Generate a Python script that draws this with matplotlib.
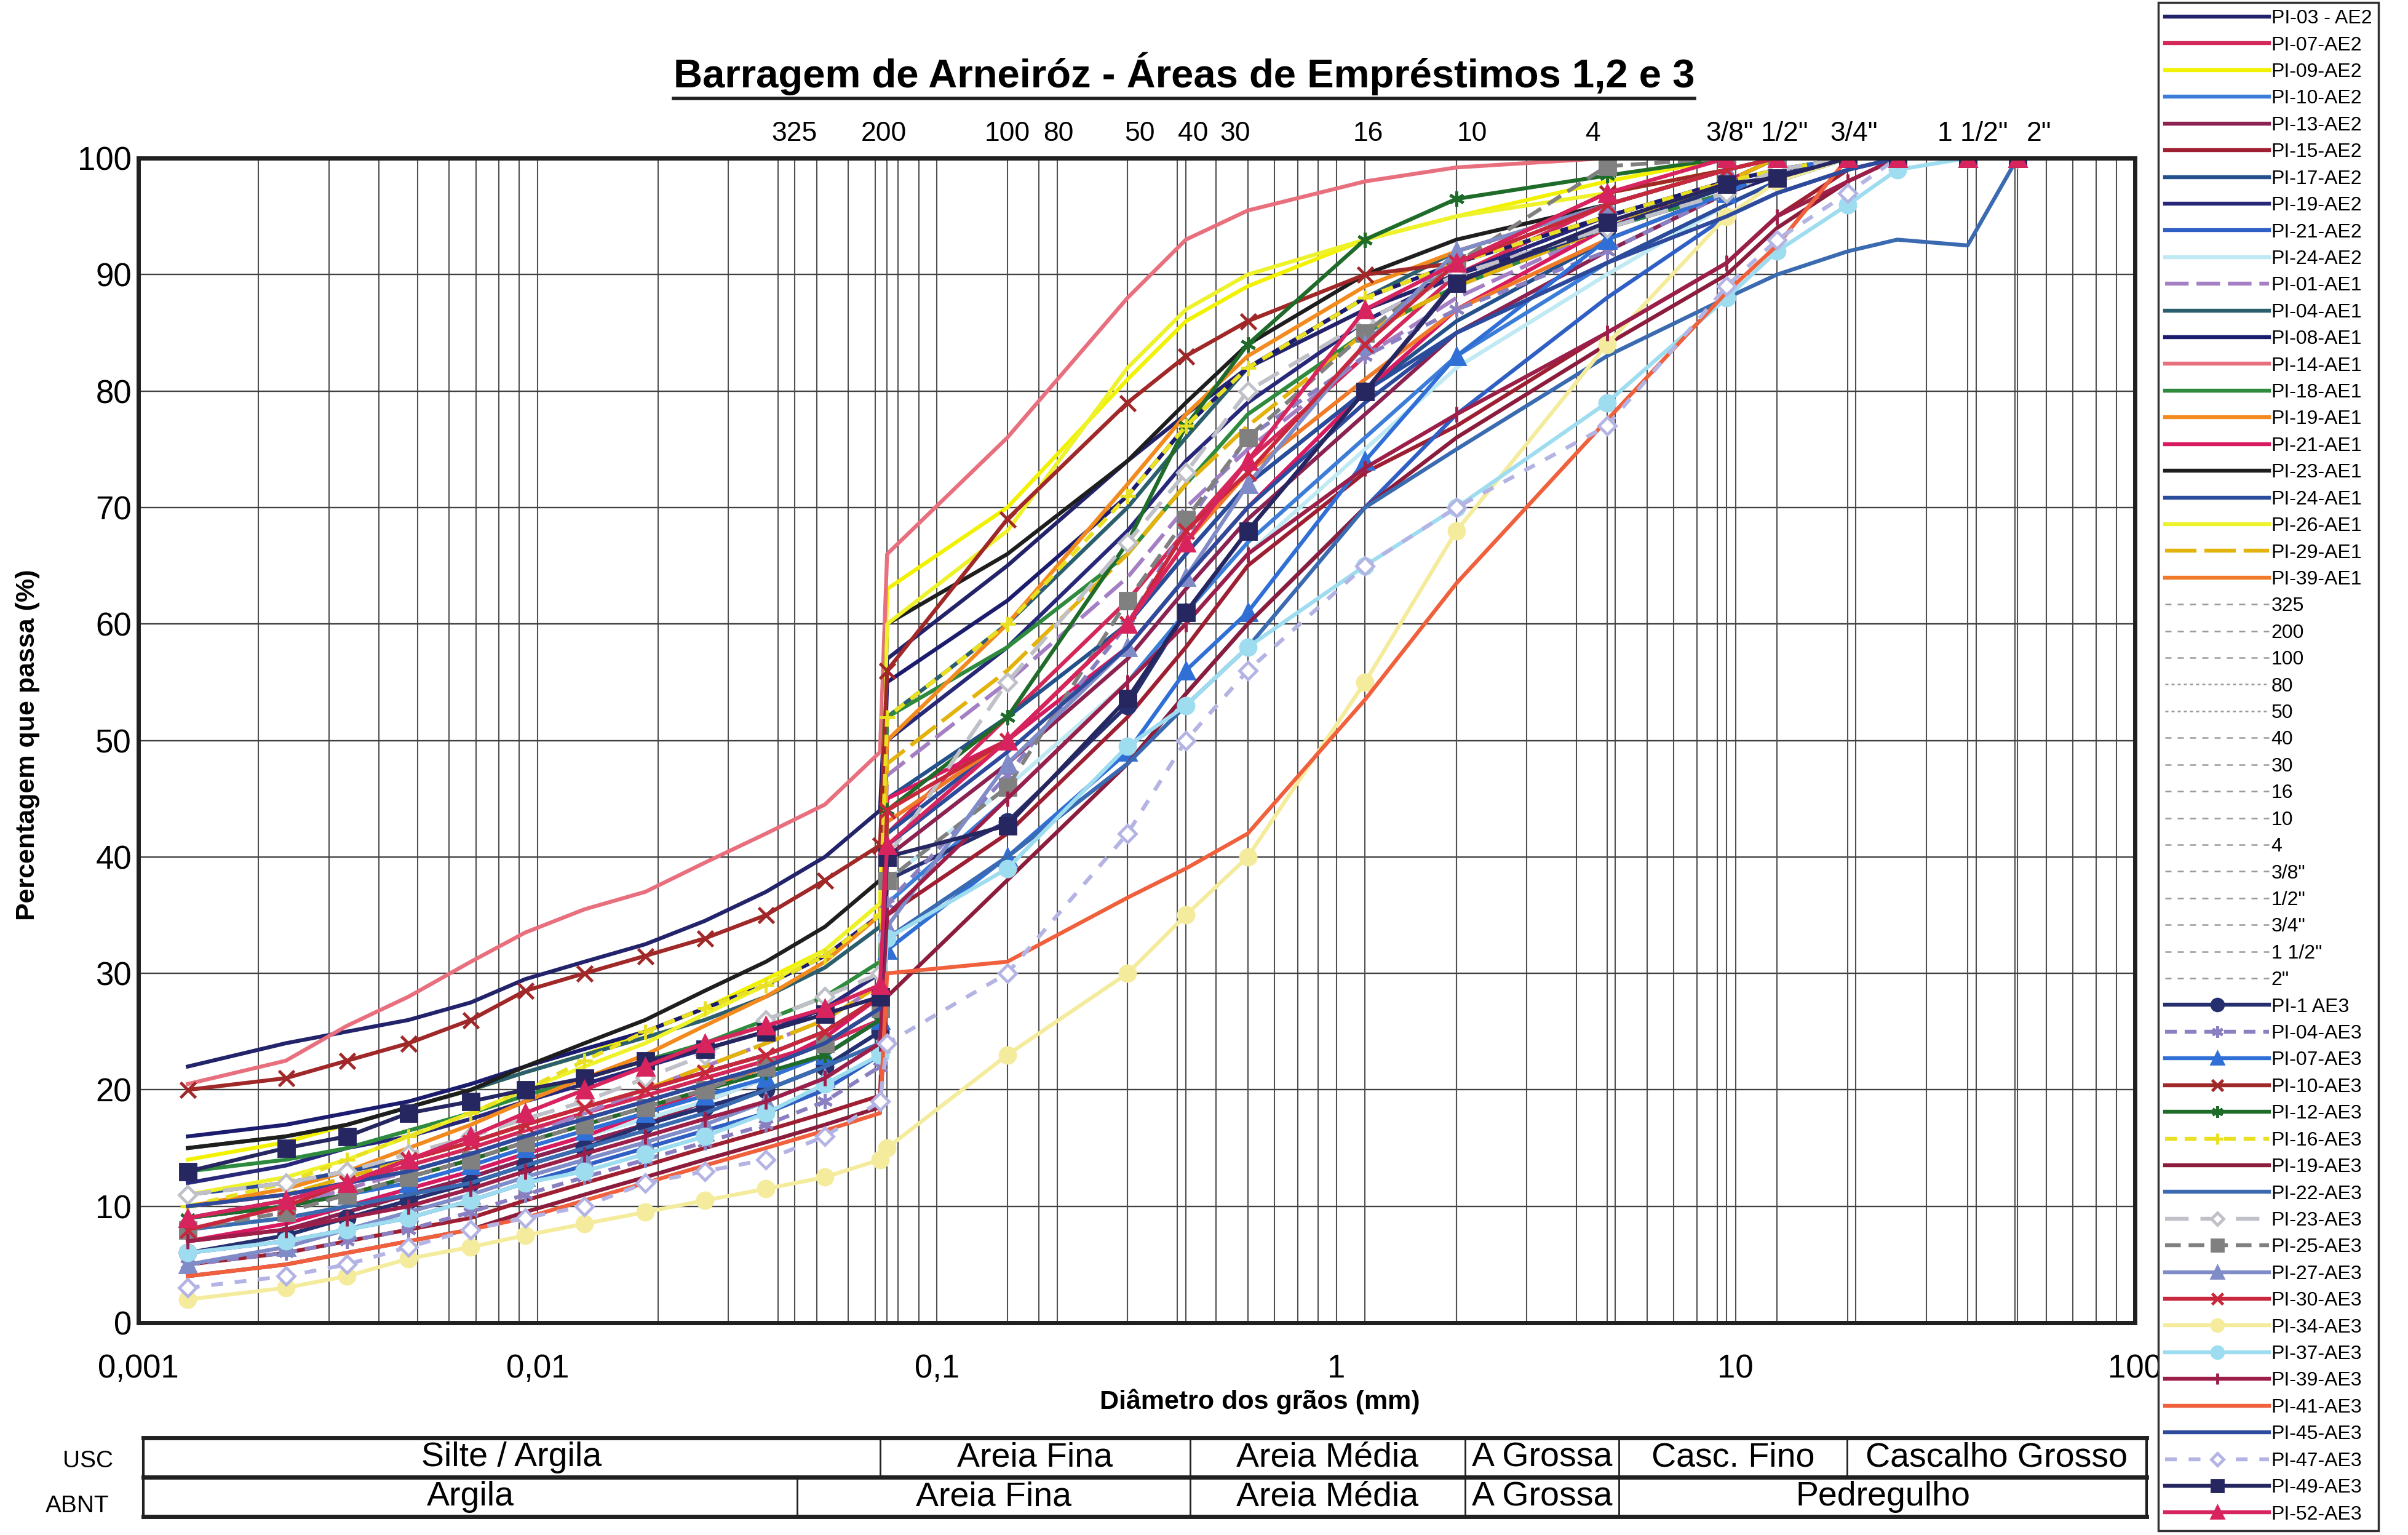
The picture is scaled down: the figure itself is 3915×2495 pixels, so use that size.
import matplotlib
matplotlib.use("Agg")
import matplotlib.pyplot as plt
from matplotlib.lines import Line2D
from matplotlib.ticker import LogLocator, NullFormatter
import matplotlib.transforms as mtransforms

plt.rcParams['font.family'] = ['Liberation Sans', 'DejaVu Sans']

W, H, DPI = 3916, 2495, 100

# diametros (mm): 12 leituras de sedimentacao + 14 peneiras
diametros = [0.00133, 0.00234, 0.00333, 0.00475, 0.0068, 0.0093, 0.0131, 0.0186,
             0.0262, 0.0373, 0.0524, 0.072,
             0.075, 0.15, 0.30, 0.42, 0.60, 1.18, 2.0, 4.76, 9.5, 12.7, 19.1, 25.4, 38.1, 50.8]

# % que passa - areas 2 e 1
pi03_ae2 = [22, 24, 25, 26, 27.5, 29.5, 31, 32.5, 34.5, 37, 40, 44, 57, 65, 74, 78, 82, 87, 90, 94, 97, 98.5, 100, 100, 100, 100]
pi07_ae2 = [10, 11, 12, 13.5, 15, 16.5, 18, 19.5, 21, 22.5, 24, 26, 42, 52, 62, 68, 74, 83, 90, 96, 99, 100, 100, 100, 100, 100]
pi09_ae2 = [14, 15.5, 17, 18.5, 20, 21.5, 23, 25, 27, 29.5, 32, 36, 63, 70, 81, 86, 89, 93, 95, 98, 100, 100, 100, 100, 100, 100]
pi10_ae2 = [8, 9, 10, 11, 12.5, 14, 15.5, 17, 18.5, 20, 22, 25, 36, 45, 55, 61, 67, 76, 83, 91, 96, 98, 100, 100, 100, 100]
pi13_ae2 = [7, 8, 9.5, 11, 12.5, 14, 15.5, 17, 19, 21, 23, 26, 40, 48, 57, 63, 69, 78, 85, 92, 97, 99, 100, 100, 100, 100]
pi15_ae2 = [5, 6, 7, 8, 9, 10.5, 12, 13.5, 15, 16.5, 18, 19.5, 35, 42, 52, 58, 65, 73, 77, 85, 91, 95, 99, 100, 100, 100]
pi17_ae2 = [9, 10.5, 12, 13, 14.5, 16, 17.5, 19, 20.5, 22, 24, 27, 45, 52, 60, 66, 72, 80, 86, 93, 97, 99, 100, 100, 100, 100]
pi19_ae2 = [12, 13.5, 15, 16, 17.5, 19, 20.5, 22, 23.5, 25, 27, 30, 50, 58, 68, 74, 79, 86, 90, 95, 98, 100, 100, 100, 100, 100]
pi21_ae2 = [6, 7, 8, 9, 10.5, 12, 13.5, 15, 16.5, 18, 20, 23, 33, 40, 48, 54, 60, 70, 78, 88, 95, 97, 99, 100, 100, 100]
pi24_ae2 = [8, 9, 10, 11.5, 13, 14.5, 16, 17.5, 19, 21, 23, 26, 38, 46, 55, 60, 66, 75, 82, 90, 96, 98, 100, 100, 100, 100]
pi01_ae1 = [9, 10, 11.5, 13, 14.5, 16, 18, 20, 22, 24, 26, 29, 47, 55, 64, 70, 75, 83, 88, 94, 98, 99, 100, 100, 100, 100]
pi04_ae1 = [15, 16, 17, 18.5, 20, 21.5, 23, 24.5, 26, 28, 30.5, 34, 52, 60, 70, 76, 82, 88, 92, 96, 99, 100, 100, 100, 100, 100]
pi08_ae1 = [16, 17, 18, 19, 20.5, 22, 23.5, 25, 27, 29, 31.5, 35, 55, 62, 71, 77, 82, 88, 91, 95, 98, 99, 100, 100, 100, 100]
pi14_ae1 = [20.5, 22.5, 25.5, 28, 31, 33.5, 35.5, 37, 39.5, 42, 44.5, 49, 66, 76, 88, 93, 95.5, 98, 99.2, 100, 100, 100, 100, 100, 100, 100]
pi18_ae1 = [13, 14, 15, 16.5, 18, 19.5, 21, 22.5, 24, 26, 28, 31, 52, 58, 66, 72, 78, 85, 89, 94, 97, 99, 100, 100, 100, 100]
pi19_ae1 = [10, 11.5, 13, 15, 17, 19, 21, 23, 25.5, 28, 31, 35, 50, 60, 72, 78, 83, 89, 92, 96, 99, 100, 100, 100, 100, 100]
pi21_ae1 = [7, 8.5, 10, 11.5, 13, 14.5, 16, 18, 20, 22, 24.5, 28, 45, 50, 58, 64, 70, 80, 87, 94, 98, 100, 100, 100, 100, 100]
pi23_ae1 = [15, 16, 17, 18.5, 20, 22, 24, 26, 28.5, 31, 34, 38, 60, 66, 74, 79, 84, 90, 93, 96, 99, 100, 100, 100, 100, 100]
pi24_ae1 = [11, 12, 13, 14, 15.5, 17, 18.5, 20, 21.5, 23, 25, 28, 42, 50, 60, 66, 72, 80, 85, 91, 96, 98, 100, 100, 100, 100]
pi26_ae1 = [11, 12.5, 14, 16, 18, 20, 22, 24, 26.5, 29, 32, 36, 60, 68, 82, 87, 90, 93, 95, 97, 99, 100, 100, 100, 100, 100]
pi29_ae1 = [10, 11, 12.5, 14, 15.5, 17, 18.5, 20, 22, 24, 26, 29, 48, 56, 66, 72, 77, 85, 89, 94, 98, 100, 100, 100, 100, 100]
pi39_ae1 = [9, 10, 11, 12.5, 14, 15.5, 17, 18.5, 20, 22, 24, 27, 43, 50, 60, 67, 73, 81, 87, 93, 97, 99, 100, 100, 100, 100]

# % que passa - area 3
pi01_ae3 = [6, 7.5, 9, 10.5, 12, 13.5, 15, 17, 18.5, 20, 22, 25, 38, 43, 53, 61, 68, 80, 89.5, 94, 97.5, 98.5, 100, 100, 100, 100]
pi04_ae3 = [5, 6, 7, 8, 9.5, 11, 12.5, 14, 15.5, 17, 19, 22, 36, 47, 60, 68.5, 76, 83, 87, 92, 97, 99, 100, 100, 100, 100]
pi07_ae3 = [9, 10, 11, 12, 13.5, 15, 16.5, 18, 19.5, 21, 23, 26, 32, 40, 49, 56, 61, 74, 83, 93, 97, 99, 100, 100, 100, 100]
pi10_ae3 = [20, 21, 22.5, 24, 26, 28.5, 30, 31.5, 33, 35, 38, 41, 56, 69, 79, 83, 86, 90, 91, 97, 99, 100, 100, 100, 100, 100]
pi12_ae3 = [9, 10, 11, 12.5, 14, 15.5, 17, 18.5, 20, 21.5, 23, 26, 44, 52, 67, 77, 84, 93, 96.5, 98.5, 100, 100, 100, 100, 100, 100]
pi16_ae3 = [10, 12, 14, 16, 18, 20, 22.5, 25, 27, 29, 31.5, 35, 52, 60, 71, 77, 82, 88, 91, 95, 98, 99, 100, 100, 100, 100]
pi19_ae3 = [4, 5, 6, 7, 8, 9.5, 11, 12.5, 14, 15.5, 17, 18.5, 28, 38, 48, 54, 60, 70, 76, 84, 90, 94, 98, 100, 100, 100]
pi22_ae3 = [8, 9, 10, 11, 12, 13.5, 15, 16.5, 18, 20, 22, 24, 33, 40, 48, 53, 58, 70, 75, 83, 88, 90, 92, 93, 92.5, 100]
pi23_ae3 = [11, 12, 13, 14.5, 16, 17.5, 19, 21, 23, 26, 28, 30, 40, 55, 67, 73, 80, 86, 90, 94, 97, 99, 100, 100, 100, 100]
pi25_ae3 = [8, 9.5, 11, 12.5, 14, 15.5, 17, 18.5, 20, 22, 24, 27, 38, 46, 62, 69, 76, 85, 91, 99.3, 100, 100, 100, 100, 100, 100]
pi27_ae3 = [5, 6.5, 8, 9.5, 11, 12.5, 14, 15.5, 17, 19, 21, 24, 34, 48, 58, 64, 72, 84, 92, 96, 99, 100, 100, 100, 100, 100]
pi30_ae3 = [8, 10, 12, 14, 15.5, 17, 18.5, 20, 21.5, 23, 25, 28, 44, 50, 60, 68, 73, 84, 91, 96, 99, 100, 100, 100, 100, 100]
pi34_ae3 = [2, 3, 4, 5.5, 6.5, 7.5, 8.5, 9.5, 10.5, 11.5, 12.5, 14, 15, 23, 30, 35, 40, 55, 68, 84, 95, 98, 100, 100, 100, 100]
pi37_ae3 = [6, 7, 8, 9, 10.5, 12, 13, 14.5, 16, 18, 20.5, 23, 33, 39, 49.5, 53, 58, 65, 70, 79, 88, 92, 96, 99, 100, 100]
pi39_ae3 = [7, 8, 9, 10, 11.5, 13, 14.5, 16, 17.5, 19, 21, 24, 35, 45, 55, 60, 66, 73.4, 78, 85, 91, 95, 98, 100, 100, 100]
pi41_ae3 = [4, 5, 6, 7, 8, 9, 10.5, 12, 13.5, 15, 16.5, 18, 30, 31, 36.5, 39, 42, 53.5, 63.5, 77.5, 88.5, 92.5, 100, 100, 100, 100]
pi45_ae3 = [10, 11, 12, 13, 14.5, 16, 17.5, 19, 20.5, 22, 24, 27, 41, 49, 58, 64, 70, 79, 85, 91, 95, 97, 99, 100, 100, 100]
pi47_ae3 = [3, 4, 5, 6.5, 8, 9, 10, 12, 13, 14, 16, 19, 24, 30, 42, 50, 56, 65, 70, 77, 89, 93, 97, 100, 100, 100]
pi49_ae3 = [13, 15, 16, 18, 19, 20, 21, 22.5, 23.5, 25, 26.5, 28, 40, 42.7, 53.6, 61, 68, 80, 89.3, 94.5, 97.8, 98.3, 100, 100, 100, 100]
pi52_ae3 = [9, 10.5, 12, 14, 16, 18, 20, 22, 24, 25.5, 27, 29, 41, 50, 60, 67, 74, 87, 91, 97, 100, 100, 100, 100, 100, 100]

# peneiras (linhas verticais) e seus rotulos
peneiras_mm = [0.044, 0.075, 0.15, 0.18, 0.30, 0.42, 0.60, 1.18, 2.0, 4.76, 9.5, 12.7, 19.1, 38.1, 50.8]
peneiras_txt = ['325', '200', '100', '80', '50', '40', '30', '16', '10', '4',
                '3/8"', '1/2"', '3/4"', '1 1/2"', '2"']
rotulo_dx = [0, -5, 0, 32, 20, 12, -20, 5, 25, -22, 5, 12, 10, 8, 35]  # desloc. em px

# classificacao granulometrica (limites em mm)
usc_lim = [0.00103, 0.072, 0.43, 2.1, 5.1, 19.0, 107]
usc_txt = ['Silte / Argila', 'Areia Fina', 'Areia Média', 'A Grossa', 'Casc. Fino', 'Cascalho Grosso']
abnt_lim = [0.00103, 0.0446, 0.43, 2.1, 5.1, 107]
abnt_txt = ['Argila', 'Areia Fina', 'Areia Média', 'A Grossa', 'Pedregulho']

# (rotulo, dados, cor, estilo, marcador)
series_12 = [
    ('PI-03 - AE2', pi03_ae2, '#23236b', '-', None),
    ('PI-07-AE2', pi07_ae2, '#d4285a', '-', None),
    ('PI-09-AE2', pi09_ae2, '#f2f200', '-', None),
    ('PI-10-AE2', pi10_ae2, '#3b7dd8', '-', None),
    ('PI-13-AE2', pi13_ae2, '#8b2252', '-', None),
    ('PI-15-AE2', pi15_ae2, '#9e1f32', '-', None),
    ('PI-17-AE2', pi17_ae2, '#24508c', '-', None),
    ('PI-19-AE2', pi19_ae2, '#28287a', '-', None),
    ('PI-21-AE2', pi21_ae2, '#2f5fc4', '-', None),
    ('PI-24-AE2', pi24_ae2, '#bfe9f3', '-', None),
    ('PI-01-AE1', pi01_ae1, '#a47fc4', (0, (6, 2)), None),
    ('PI-04-AE1', pi04_ae1, '#2b5f6e', '-', None),
    ('PI-08-AE1', pi08_ae1, '#1c1c6e', '-', None),
    ('PI-14-AE1', pi14_ae1, '#e8707e', '-', None),
    ('PI-18-AE1', pi18_ae1, '#2e8b3e', '-', None),
    ('PI-19-AE1', pi19_ae1, '#f28a1e', '-', None),
    ('PI-21-AE1', pi21_ae1, '#d81b60', '-', None),
    ('PI-23-AE1', pi23_ae1, '#1e1e1e', '-', None),
    ('PI-24-AE1', pi24_ae1, '#2b4c9b', '-', None),
    ('PI-26-AE1', pi26_ae1, '#eef22a', '-', None),
    ('PI-29-AE1', pi29_ae1, '#e3b30b', (0, (8, 2)), None),
    ('PI-39-AE1', pi39_ae1, '#f07a28', '-', None),
]
series_3 = [
    ('PI-1 AE3', pi01_ae3, '#26306e', '-', 'o'),
    ('PI-04-AE3', pi04_ae3, '#8a7fc0', (0, (3, 2)), (6, 2, 0)),
    ('PI-07-AE3', pi07_ae3, '#2f6fd6', '-', '^'),
    ('PI-10-AE3', pi10_ae3, '#a02828', '-', 'x'),
    ('PI-12-AE3', pi12_ae3, '#1f6b2a', '-', (6, 2, 0)),
    ('PI-16-AE3', pi16_ae3, '#e8e020', (0, (3, 2)), '+'),
    ('PI-19-AE3', pi19_ae3, '#8c1c3c', '-', None),
    ('PI-22-AE3', pi22_ae3, '#3a6ab0', '-', None),
    ('PI-23-AE3', pi23_ae3, '#c0c0c8', (0, (6, 3)), 'D'),
    ('PI-25-AE3', pi25_ae3, '#808080', (0, (4, 2)), 's'),
    ('PI-27-AE3', pi27_ae3, '#7f8cc8', '-', '^'),
    ('PI-30-AE3', pi30_ae3, '#c8283c', '-', 'x'),
    ('PI-34-AE3', pi34_ae3, '#f4ec9c', '-', 'o'),
    ('PI-37-AE3', pi37_ae3, '#9edcf0', '-', 'o'),
    ('PI-39-AE3', pi39_ae3, '#9c1f4a', '-', '|'),
    ('PI-41-AE3', pi41_ae3, '#f0603c', '-', None),
    ('PI-45-AE3', pi45_ae3, '#2d4a9c', '-', None),
    ('PI-47-AE3', pi47_ae3, '#b4b4e4', (0, (3, 3)), 'D'),
    ('PI-49-AE3', pi49_ae3, '#262660', '-', 's'),
    ('PI-52-AE3', pi52_ae3, '#d8245e', '-', '^'),
]

fig = plt.figure(figsize=(W / DPI, H / DPI), dpi=DPI)
fig.patch.set_facecolor('white')

ax = fig.add_axes([225 / W, 1 - 2150 / H, (3471 - 225) / W, (2150 - 257) / H])
ax.set_xscale('log')
ax.set_xlim(0.001, 100)
ax.set_ylim(0, 100)
ax.set_yticks(range(0, 101, 10))
ax.set_xticks([0.001, 0.01, 0.1, 1, 10, 100])
ax.set_xticklabels(['0,001', '0,01', '0,1', '1', '10', '100'])
ax.xaxis.set_minor_locator(LogLocator(base=10, subs=range(2, 10)))
ax.xaxis.set_minor_formatter(NullFormatter())
ax.tick_params(which='both', length=0)
ax.tick_params(axis='y', labelsize=38, pad=8)
ax.tick_params(axis='x', labelsize=38, pad=36)
ax.grid(True, which='both', axis='x', color='#505050', lw=1.5)
ax.grid(True, which='major', axis='y', color='#404040', lw=1.7)
ax.set_axisbelow(True)
for s in ax.spines.values():
    s.set_linewidth(5)
    s.set_color('#202020')

LW = 4.6
handles = []
for lab, vals, cor, ls, mk in series_12:
    ln, = ax.plot(diametros, vals, color=cor, ls=ls, lw=LW, label=lab)
    handles.append(ln)

# peneiras: linha cheia no grafico, tracejado claro na legenda
for i, d in enumerate(peneiras_mm):
    ax.plot([d, d], [0, 100], color='#505050', lw=1.5, zorder=1.5)
    ls_leg = (0, (2, 2)) if peneiras_txt[i] in ('80', '50') else (0, (4, 4))
    handles.append(Line2D([], [], color='#9a9a9a', lw=1.8, ls=ls_leg, label=peneiras_txt[i]))
    tr = ax.get_xaxis_transform() + mtransforms.ScaledTranslation(rotulo_dx[i] / DPI, 0, fig.dpi_scale_trans)
    ax.text(d, 1.021, peneiras_txt[i], transform=tr, ha='center', va='center', fontsize=32, clip_on=False)

for lab, vals, cor, ls, mk in series_3:
    kw = dict(color=cor, ls=ls, lw=LW, label=lab)
    if mk is not None:
        kw.update(marker=mk, markersize=18, markerfacecolor=cor, markeredgecolor=cor, markeredgewidth=3.5)
        if mk == 'D':
            kw.update(markerfacecolor='white', markersize=14)
    ln, = ax.plot(diametros, vals, **kw)
    handles.append(ln)

# titulo sublinhado
titulo = 'Barragem de Arneiróz - Áreas de Empréstimos 1,2 e 3'
t = fig.text(0.4916, 0.952, titulo, ha='center', va='center', fontsize=47, fontweight='bold')
fig.text(0.0115, 0.5146, 'Percentagem que passa (%)', rotation=90, ha='center', va='center',
         fontsize=31, fontweight='bold')
fig.text(0.523, 0.087, 'Diâmetro dos grãos (mm)', ha='center', va='center', fontsize=31, fontweight='bold')

# tabela de classificacao
tab = fig.add_axes([225 / W, 1 - 2465 / H, (3471 - 225) / W, (2465 - 2337) / H])
tab.set_xscale('log')
tab.set_xlim(0.001, 100)
tab.set_ylim(0, 2)
tab.axis('off')
for yy in (0, 1, 2):
    tab.plot([usc_lim[0], usc_lim[-1]], [yy, yy], color='#202020', lw=5, clip_on=False)
for x in (usc_lim[0], usc_lim[-1]):
    tab.plot([x, x], [0, 2], color='#202020', lw=3, clip_on=False)
for x in usc_lim[1:-1]:
    tab.plot([x, x], [1, 2], color='#202020', lw=2, clip_on=False)
for x in abnt_lim[1:-1]:
    tab.plot([x, x], [0, 1], color='#202020', lw=2, clip_on=False)
for i, txt in enumerate(usc_txt):
    xc = (usc_lim[i] * usc_lim[i + 1]) ** 0.5
    tab.text(xc, 1.5, txt, ha='center', va='center', fontsize=40, clip_on=False)
for i, txt in enumerate(abnt_txt):
    xc = (abnt_lim[i] * abnt_lim[i + 1]) ** 0.5
    tab.text(xc, 0.5, txt, ha='center', va='center', fontsize=40, clip_on=False)
fig.text(0.0364, 0.048, 'USC', ha='center', va='center', fontsize=28)
fig.text(0.032, 0.019, 'ABNT', ha='center', va='center', fontsize=28)

leg = fig.legend(handles=handles, labels=[h.get_label() for h in handles], loc='upper left',
                 bbox_to_anchor=(3509 / W, 1 - 4 / H), fontsize=23, handlelength=5.3,
                 handletextpad=0.1, labelspacing=0.42, borderpad=0.35, borderaxespad=0,
                 fancybox=False, edgecolor='#303030', framealpha=1, markerscale=0.75)
leg.get_frame().set_linewidth(2.5)

fig.canvas.draw()
bb = t.get_window_extent().transformed(fig.transFigure.inverted())
fig.add_artist(Line2D([bb.x0, bb.x1], [bb.y0 - 0.002, bb.y0 - 0.002], transform=fig.transFigure,
                      color='#202020', lw=4))

fig.savefig('out.png', dpi=DPI, facecolor='white')
